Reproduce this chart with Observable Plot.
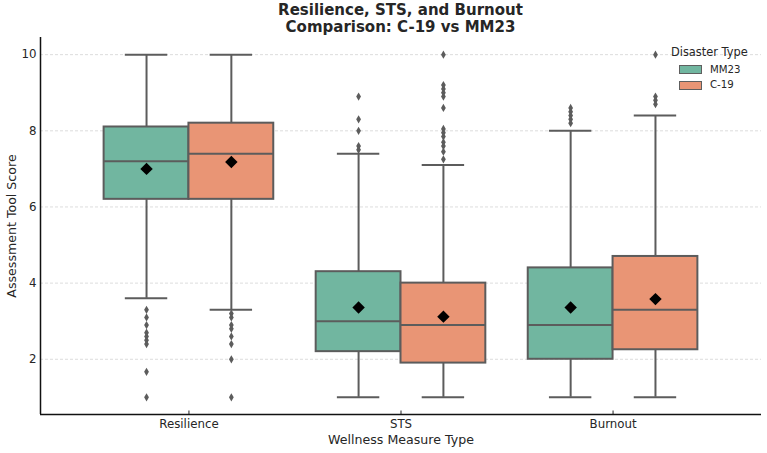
<!DOCTYPE html>
<html>
<head>
<meta charset="utf-8">
<script src="https://cdn.jsdelivr.net/npm/d3@7"></script>
<script src="https://cdn.jsdelivr.net/npm/@observablehq/plot@0.6"></script>
<style>
  html, body { margin: 0; padding: 0; background: #fff; }
  #wrap { position: relative; width: 767px; height: 453px; font-family: "DejaVu Sans", sans-serif; color: #262626; }
  #title { height: 36px; box-sizing: border-box; padding-left: 34px; text-align: center;
           font-weight: bold; font-size: 15px; line-height: 17.5px; padding-top: 1.5px; color: #262626; }
  #legend { position: absolute; left: 0; top: 0; }
  #legend .lt { position: absolute; left: 671px; top: 45px; font-size: 11.4px; line-height: 15px; white-space: nowrap; }
  #legend .sw { position: absolute; left: 679px; width: 21px; height: 7px; border: 1px solid #5f5f5f; }
  #legend .lb { position: absolute; left: 710px; font-size: 10.2px; line-height: 14px; white-space: nowrap; }
</style>
</head>
<body>
<div id="wrap">
  <div id="title"></div>
  <div id="chart"></div>
  <div id="legend"></div>
</div>
<script>
// Chart text
const titleLines = ["Resilience, STS, and Burnout", "Comparison: C-19 vs MM23"];
const xLabel = "Wellness Measure Type";
const yLabel = "Assessment Tool Score";
const legendTitle = "Disaster Type";

// Categories and groups
const measures = ["Resilience", "STS", "Burnout"];
const groups = ["MM23", "C-19"];
const groupColors = ["#71b6a0", "#e99575"];
const yTicks = [2, 4, 6, 8, 10];

// One entry per box: measure, group and its summary statistics
const boxMeasure = ["Resilience", "Resilience", "STS", "STS", "Burnout", "Burnout"];
const boxGroup = ["MM23", "C-19", "MM23", "C-19", "MM23", "C-19"];
const whiskerLow = [3.6, 3.3, 1.0, 1.0, 1.0, 1.0];
const q1 = [6.2, 6.2, 2.2, 1.9, 2.0, 2.25];
const median = [7.2, 7.4, 3.0, 2.9, 2.9, 3.3];
const q3 = [8.1, 8.2, 4.3, 4.0, 4.4, 4.7];
const whiskerHigh = [10, 10, 7.4, 7.1, 8.0, 8.4];
const mean = [7.0, 7.18, 3.36, 3.12, 3.36, 3.58];
const outliers = [
  [3.3, 3.1, 2.9, 2.7, 2.6, 2.5, 2.4, 1.67, 1.0],
  [3.2, 3.1, 2.9, 2.8, 2.6, 2.4, 2.0, 1.0],
  [8.9, 8.3, 8.0, 7.6, 7.5],
  [10, 9.2, 9.1, 9.0, 8.9, 8.6, 8.05, 7.95, 7.85, 7.7, 7.6, 7.45, 7.25],
  [8.6, 8.5, 8.4, 8.3, 8.2],
  [10, 8.9, 8.8, 8.7]
];

// Layout constants
const dodge = 0.2;      // offset of each group from the category centre
const boxHalf = 0.2;    // half box width
const capHalf = 0.1;    // half whisker-cap width
const xDomain = [-0.7, 2.7];
const yDomain = [0.55, 10.45];
const edge = "#5c5c5c";
const W = 767, H = 417, mT = 1, mB = 39, mL = 40, mR = 6;

const rows = boxMeasure.map((m, i) => ({
  m, g: boxGroup[i],
  c: measures.indexOf(m) + (boxGroup[i] === groups[0] ? -dodge : dodge),
  lo: whiskerLow[i], q1: q1[i], med: median[i], q3: q3[i], hi: whiskerHigh[i], mean: mean[i]
}));
const outRows = rows.flatMap((r, i) => outliers[i].map(v => ({c: r.c, v})));

document.getElementById("title").innerHTML = titleLines.map(t => `<div>${t}</div>`).join("");

const chart = Plot.plot({
  width: W, height: H,
  marginTop: mT, marginBottom: mB, marginLeft: mL, marginRight: mR,
  x: {domain: xDomain, label: null},
  y: {domain: yDomain, label: null},
  color: {domain: groups, range: groupColors},
  style: {fontFamily: "DejaVu Sans", fontSize: "11.8px", color: "#262626", background: "white"},
  marks: [
    Plot.ruleY(yTicks, {stroke: "#d4d4d4", strokeWidth: 0.8, strokeDasharray: "3,2"}),
    Plot.ruleX(rows, {x: "c", y1: "lo", y2: "hi", stroke: edge, strokeWidth: 2}),
    Plot.ruleY(rows, {y: "lo", x1: d => d.c - capHalf, x2: d => d.c + capHalf, stroke: edge, strokeWidth: 2}),
    Plot.ruleY(rows, {y: "hi", x1: d => d.c - capHalf, x2: d => d.c + capHalf, stroke: edge, strokeWidth: 2}),
    Plot.rect(rows, {x1: d => d.c - boxHalf, x2: d => d.c + boxHalf, y1: "q1", y2: "q3", fill: "g", stroke: edge, strokeWidth: 2}),
    Plot.ruleY(rows, {y: "med", x1: d => d.c - boxHalf, x2: d => d.c + boxHalf, stroke: edge, strokeWidth: 2}),
    Plot.dot(outRows, {x: "c", y: "v", symbol: "diamond", r: 2.5, fill: edge, stroke: null}),
    Plot.dot(rows, {x: "c", y: "mean", symbol: "diamond2", r: 5.6, fill: "black", stroke: null}),
    Plot.ruleX(measures.map((_, i) => i), {insetTop: H - mT - mB - 3.5, stroke: "#262626", strokeWidth: 1}),
    Plot.ruleX([xDomain[0]], {stroke: "#111", strokeWidth: 1.5}),
    Plot.ruleY([yDomain[0]], {stroke: "#111", strokeWidth: 1.5}),
    Plot.axisY(yTicks, {tickSize: 0, tickPadding: 4, fontSize: 11.8, label: null}),
    Plot.axisX(measures.map((_, i) => i), {tickFormat: i => measures[i], tickSize: 0, tickPadding: 5.5, fontSize: 11.8, label: null}),
    Plot.text([yLabel], {frameAnchor: "left", dx: -29, rotate: -90, textAnchor: "middle", lineAnchor: "middle", fontSize: 12.6, fill: "#262626"}),
    Plot.text([xLabel], {frameAnchor: "bottom", dy: 25.5, textAnchor: "middle", lineAnchor: "middle", fontSize: 12.6, fill: "#262626"})
  ]
});
document.getElementById("chart").appendChild(chart);

// Legend
const legend = document.getElementById("legend");
let html = `<div class="lt">${legendTitle}</div>`;
groups.forEach((g, i) => {
  const top = 65 + i * 15.5;
  html += `<div class="sw" style="top:${top}px;background:${groupColors[i]}"></div>`;
  html += `<div class="lb" style="top:${top + 4.5 - 7}px">${g}</div>`;
});
legend.innerHTML = html;
</script>
</body>
</html>
